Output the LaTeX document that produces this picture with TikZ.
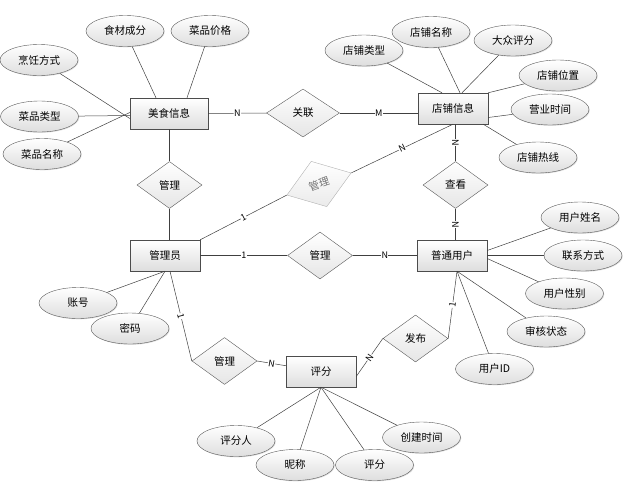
\documentclass[tikz,border=0pt]{standalone}
\usepackage{fontspec}
\setmainfont{Noto Sans CJK SC}
\usetikzlibrary{shapes.geometric,shadows}

\begin{document}
\begin{tikzpicture}[x=1pt, y=-1pt,
		attr/.style={ellipse, draw=black!65, top color=white, bottom color=black!13, minimum width=78pt, minimum height=31pt, inner sep=0pt, font=\fontsize{10.5}{12}\selectfont, drop shadow={shadow xshift=0.8pt, shadow yshift=-0.8pt, opacity=0.25}},
		entity/.style={rectangle, draw=black!70, top color=white, bottom color=black!13, minimum width=70pt, minimum height=31pt, inner sep=0pt, font=\fontsize{10.5}{12}\selectfont, drop shadow={shadow xshift=0.8pt, shadow yshift=-0.8pt, opacity=0.25}},
		rel/.style={diamond, draw=black!65, top color=white, bottom color=black!10, minimum width=65pt, minimum height=47pt, inner sep=0pt, font=\fontsize{10.5}{12}\selectfont},
		card/.style={fill=white, inner sep=0.4pt, sloped, font=\fontsize{9}{10}\selectfont},
		link/.style={draw=black!75, line width=0.5pt}
	]
		%%%%% START %%%%%
		
		\useasboundingbox (0, 0) rectangle (624, 485);
		
		% entities
		\node[entity, minimum width=78pt] (food) at (169, 113.5) {美食信息};
		\node[entity] (shop) at (453, 108.5) {店铺信息};
		\node[entity] (admin) at (165, 255.5) {管理员};
		\node[entity] (user) at (452, 255.5) {普通用户};
		\node[entity] (review) at (321, 371.5) {评分};
		
		% relations
		\node[rel, minimum width=73pt, minimum height=48pt] (link) at (303, 113) {关联};
		\node[rel] (mgrfood) at (169.5, 185) {管理};
		\node[rel, rotate=19, minimum width=68pt, minimum height=48pt, draw=black!30, top color=white, bottom color=black!8, text=black!55] (mgrshop) at (319, 184) {管理};
		\node[rel] (look) at (455.5, 185) {查看};
		\node[rel] (mgruser) at (320, 255.5) {管理};
		\node[rel] (mgrrev) at (224.5, 361) {管理};
		\node[rel] (post) at (415.5, 338.5) {发布};
		
		% attributes of food
		\node[attr] (ingr) at (125, 31) {食材成分};
		\node[attr] (price) at (210, 31) {菜品价格};
		\node[attr] (cook) at (39, 60) {烹饪方式};
		\node[attr] (dtype) at (39.5, 116.5) {菜品类型};
		\node[attr] (dname) at (42, 154) {菜品名称};
		
		% attributes of shop
		\node[attr] (stype) at (364, 50.5) {店铺类型};
		\node[attr] (sname) at (431, 32) {店铺名称};
		\node[attr] (score) at (513, 40.5) {大众评分};
		\node[attr] (sloc) at (558, 75.5) {店铺位置};
		\node[attr] (hours) at (550, 109.5) {营业时间};
		\node[attr] (hotline) at (538, 157.5) {店铺热线};
		
		% attributes of admin
		\node[attr] (acct) at (78, 303) {账号};
		\node[attr] (pwd) at (130, 328.5) {密码};
		
		% attributes of user
		\node[attr] (uname) at (580, 217.5) {用户姓名};
		\node[attr] (phone) at (583, 255.5) {联系方式};
		\node[attr] (gender) at (564.5, 293.5) {用户性别};
		\node[attr] (audit) at (546, 331.5) {审核状态};
		\node[attr] (uid) at (494.5, 369) {用户ID};
		
		% attributes of review
		\node[attr] (rater) at (236, 441) {评分人};
		\node[attr] (nick) at (295, 465) {昵称};
		\node[attr] (rscore) at (374.5, 465) {评分};
		\node[attr] (ctime) at (421.5, 437.5) {创建时间};
		
		% food lines
		\draw[link] (ingr) -- ([xshift=-13pt]food.north);
		\draw[link] (price) -- ([xshift=18pt]food.north);
		\draw[link] (cook) -- ([yshift=-5pt]food.west);
		\draw[link] (dtype) -- ([yshift=-2pt]food.west);
		\draw[link] (dname) -- ([yshift=1pt]food.west);
		
		% shop lines
		\draw[link] (stype) -- ([xshift=-11pt]shop.north);
		\draw[link] (sname) -- ([xshift=7pt]shop.north);
		\draw[link] (score) -- ([xshift=9pt]shop.north);
		\draw[link] (sloc) -- (shop.north east);
		\draw[link] (hours) -- ([yshift=-9pt]shop.east);
		\draw[link] (hotline) -- ([xshift=-5pt]shop.south east);
		
		% admin lines
		\draw[link] (acct) -- (admin.south);
		\draw[link] (pwd) -- (admin.south);
		
		% user lines
		\draw[link] (uname) -- ([yshift=5pt]user.east);
		\draw[link] (phone) -- (user.east);
		\draw[link] (gender) -- ([yshift=-3pt]user.east);
		\draw[link] (audit) -- ([xshift=5pt]user.south);
		\draw[link] (uid) -- ([xshift=5pt]user.south);
		
		% review lines
		\draw[link] (rater) -- (review.south);
		\draw[link] (nick) -- (review.south);
		\draw[link] (rscore) -- (review.south);
		\draw[link] (ctime) -- (review.south);
		
		% relation lines
		\draw[link] (food) -- node[card] {N} (link);
		\draw[link] (link.east) -- node[card] {M} (link.east -| shop.west);
		\draw[link] (food.south -| mgrfood) -- (mgrfood.north);
		\draw[link] (mgrfood.south) -- (mgrfood.south |- admin.north);
		\draw[link] (admin.north east) -- node[card] {1} (mgrshop.west);
		\draw[link] (mgrshop.east) -- node[card] {N} (shop.south);
		\draw[link] (shop.south -| look) -- node[card] {N} (look.north);
		\draw[link] (look.south) -- node[card] {N} (look.south |- user.north);
		\draw[link] (admin) -- node[card] {1} (mgruser);
		\draw[link] (mgruser) -- node[card] {N} (user);
		\draw[link] ([xshift=5pt]admin.south) -- node[card] {1} (mgrrev.west);
		\draw[link] (mgrrev.east) -- node[card] {N} (review);
		\draw[link] ([xshift=5pt]user.south) -- node[card] {1} (post.east);
		\draw[link] (post.west) -- node[card] {N} ([yshift=-5pt]review.east);
		
		%%%%% END %%%%%
	\end{tikzpicture}
\end{document}
